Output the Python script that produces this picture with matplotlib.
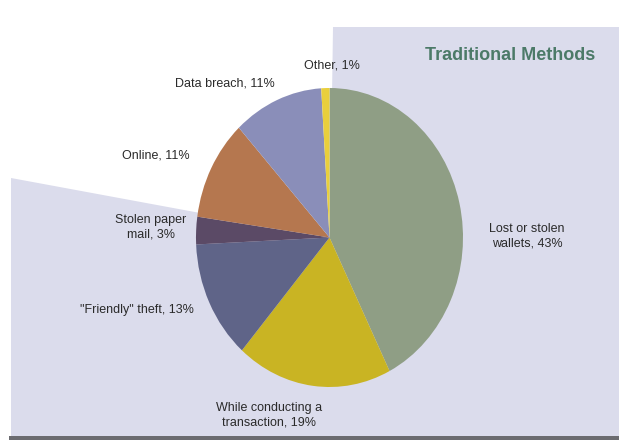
import matplotlib.pyplot as plt
from matplotlib.patches import Polygon, Rectangle

# slices, clockwise from 12 o'clock
labels = ['Lost or stolen\nwallets, 43%', 'While conducting a\ntransaction, 19%',
          '"Friendly" theft, 13%', 'Stolen paper\nmail, 3%', 'Online, 11%',
          'Data breach, 11%', 'Other, 1%']
shares = [43, 19, 13, 3, 11, 11, 1]
colors = ['#8f9e85', '#c9b423', '#5f6488', '#5b4a66', '#b5774f', '#8a8eb9', '#e9cf3c']
title = 'Traditional Methods'

# label anchor points, in pixels (x right, y down)
label_pos = [(527, 236), (269, 415), (137, 310), (151, 227), (156, 155), (225, 83), (332, 65)]

W, H = 619, 440
plt.rcParams['font.family'] = ['Liberation Sans', 'DejaVu Sans']

fig = plt.figure(figsize=(W / 100, H / 100), dpi=100)
fig.patch.set_facecolor('white')


def px(x, y):
    return x / W, 1 - y / H


# lavender backdrop, with a wedge cut out towards the pie centre
bg = [px(333, 27), px(619, 27), px(619, 436), px(11, 436), px(11, 178), px(330, 237)]
fig.patches.append(Polygon(bg, closed=True, transform=fig.transFigure,
                           facecolor='#dbdcec', edgecolor='none', zorder=-1))
x0, y0 = px(9, 440)
fig.patches.append(Rectangle((x0, y0), 1 - x0, 4 / H, transform=fig.transFigure,
                             facecolor='#6b6b70', edgecolor='none', zorder=-1))

l, b = px(196, 387)
r, t = px(463, 88)
ax = fig.add_axes([l, b, r - l, t - b])
ax.set_zorder(2)
ax.pie(shares, colors=colors, startangle=90, counterclock=False,
       wedgeprops=dict(linewidth=0))
ax.set_aspect('auto')
ax.set_xlim(-1, 1)
ax.set_ylim(-1, 1)
ax.patch.set_alpha(0)

for lab, (x, y) in zip(labels, label_pos):
    fx, fy = px(x, y)
    fig.text(fx, fy, lab, ha='center', va='center', fontsize=9,
             color='#2a2a2a', linespacing=1.25)

fx, fy = px(510, 56)
fig.text(fx, fy, title, ha='center', va='center', fontsize=13,
         fontweight='bold', color='#4c7a68')

fig.savefig('out.png', dpi=100)
